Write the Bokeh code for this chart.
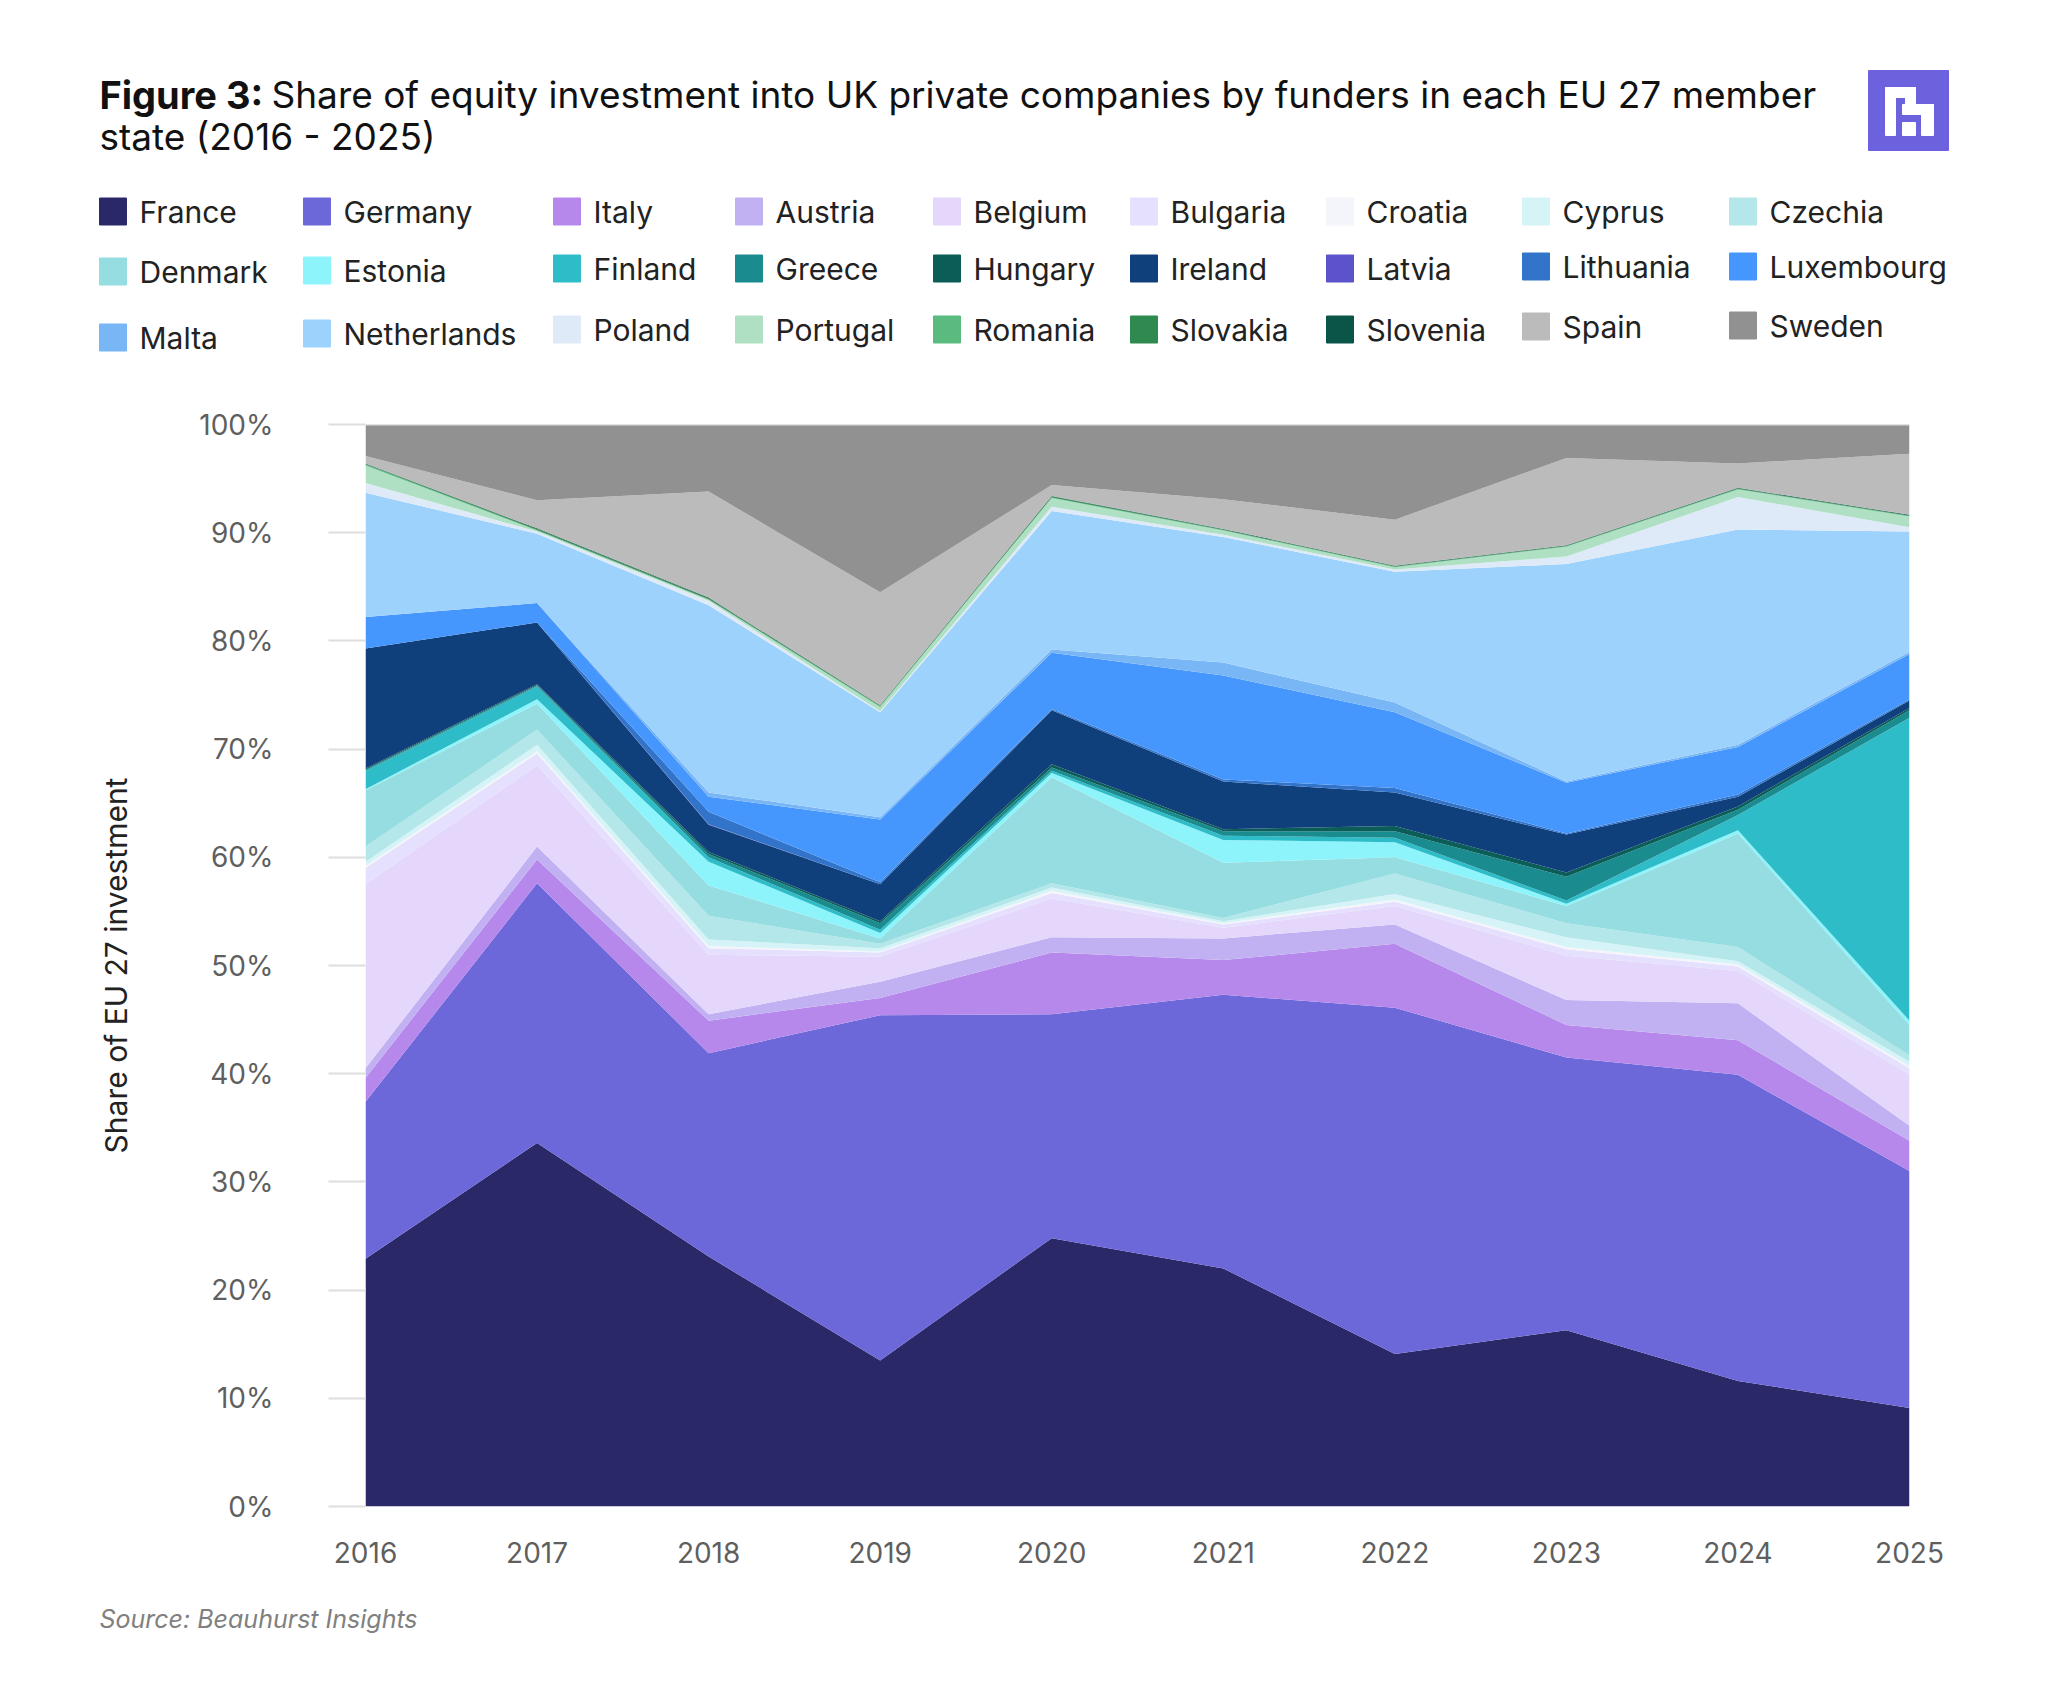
from bokeh.plotting import figure
from bokeh.layouts import column
from bokeh.models import (ColumnDataSource, Range1d, FixedTicker, PrintfTickFormatter, Span)
from bokeh.core.properties import value
from bokeh.embed import file_html
from bokeh.resources import INLINE

# ---------------- data ----------------
years = [2016, 2017, 2018, 2019, 2020, 2021, 2022, 2023, 2024, 2025]

countries = ["France", "Germany", "Italy", "Austria", "Belgium", "Bulgaria", "Croatia",
             "Cyprus", "Czechia", "Denmark", "Estonia", "Finland", "Greece", "Hungary",
             "Ireland", "Latvia", "Lithuania", "Luxembourg", "Malta", "Netherlands",
             "Poland", "Portugal", "Romania", "Slovakia", "Slovenia", "Spain", "Sweden"]

France      = [22.9, 33.6, 23.1, 13.5, 24.8, 22.0, 14.1, 16.3, 11.6, 9.1]
Germany     = [14.5, 24.0, 18.8, 31.9, 20.7, 25.3, 32.0, 25.2, 28.3, 21.9]
Italy       = [2.2, 2.2, 3.0, 1.6, 5.7, 3.2, 5.9, 3.0, 3.2, 2.8]
Austria     = [0.9, 1.2, 0.6, 1.5, 1.4, 2.0, 1.8, 2.3, 3.4, 1.4]
Belgium     = [17.0, 7.5, 5.5, 2.3, 3.6, 1.0, 1.7, 4.1, 3.0, 4.7]
Bulgaria    = [1.5, 1.1, 0.6, 0.4, 0.5, 0.3, 0.4, 0.6, 0.4, 0.6]
Croatia     = [0.2, 0.2, 0.2, 0.1, 0.2, 0.1, 0.2, 0.2, 0.2, 0.2]
Cyprus      = [0.4, 0.6, 0.6, 0.3, 0.3, 0.2, 0.5, 0.9, 0.3, 0.4]
Czechia     = [1.4, 1.4, 2.2, 0.4, 0.4, 0.3, 1.9, 1.3, 1.3, 0.6]
Denmark     = [5.2, 2.4, 2.8, 0.5, 9.8, 5.1, 1.5, 1.6, 10.5, 2.8]
Estonia     = [0.1, 0.4, 2.2, 0.5, 0.4, 2.1, 1.4, 0.2, 0.3, 0.4]
Finland     = [1.7, 1.2, 0.4, 0.3, 0.2, 0.4, 0.4, 0.3, 1.4, 28.0]
Greece      = [0.1, 0.1, 0.3, 0.6, 0.3, 0.4, 0.6, 2.2, 0.5, 0.7]
Hungary     = [0.1, 0.1, 0.2, 0.2, 0.3, 0.2, 0.5, 0.4, 0.3, 0.2]
Ireland     = [11.1, 5.7, 2.5, 3.4, 5.0, 4.4, 3.1, 3.5, 0.9, 0.7]
Latvia      = [0.0, 0.0, 0.05, 0.0, 0.0, 0.0, 0.0, 0.0, 0.0, 0.0]
Lithuania   = [0.0, 0.0, 1.15, 0.2, 0.1, 0.2, 0.4, 0.1, 0.2, 0.1]
Luxembourg  = [2.9, 1.8, 1.4, 5.8, 5.2, 9.6, 7.0, 4.7, 4.4, 4.2]
Malta       = [0.0, 0.0, 0.4, 0.2, 0.3, 1.2, 0.9, 0.1, 0.2, 0.2]
Netherlands = [11.5, 6.4, 17.3, 9.7, 12.8, 11.6, 12.1, 20.1, 19.9, 11.1]
Poland      = [0.9, 0.2, 0.4, 0.1, 0.4, 0.2, 0.2, 0.7, 3.0, 0.4]
Portugal    = [1.6, 0.1, 0.1, 0.4, 0.8, 0.4, 0.2, 0.9, 0.7, 1.0]
Romania     = [0.1, 0.05, 0.05, 0.05, 0.05, 0.05, 0.05, 0.05, 0.05, 0.05]
Slovakia    = [0.05, 0.1, 0.1, 0.05, 0.1, 0.05, 0.05, 0.05, 0.05, 0.05]
Slovenia    = [0.05, 0.05, 0.05, 0.05, 0.05, 0.05, 0.05, 0.05, 0.05, 0.05]
Spain       = [0.7, 2.6, 9.8, 10.45, 1.0, 2.75, 4.25, 8.05, 2.25, 5.65]
Sweden      = [2.9, 7.0, 6.2, 15.5, 5.6, 6.9, 8.8, 3.1, 3.6, 2.7]

series = [France, Germany, Italy, Austria, Belgium, Bulgaria, Croatia, Cyprus, Czechia,
          Denmark, Estonia, Finland, Greece, Hungary, Ireland, Latvia, Lithuania,
          Luxembourg, Malta, Netherlands, Poland, Portugal, Romania, Slovakia, Slovenia,
          Spain, Sweden]

y_ticks = [0, 10, 20, 30, 40, 50, 60, 70, 80, 90, 100]

colors = ["#2b2868", "#6c68da", "#b688eb", "#c2b1f2", "#e5d7fc", "#e4e0fd", "#f4f4fb",
          "#d6f4f7", "#b3e7ea", "#96dde1", "#8ef4fb", "#2ebcc8", "#1a8b8f", "#0b5d57",
          "#10407c", "#5c52c9", "#3274c9", "#4697fd", "#79b6f6", "#9dd2fd", "#dfeaf8",
          "#afe0c4", "#5bbb7e", "#2e8a4e", "#0b5548", "#bbbbbb", "#919191"]

title_bold = "Figure 3:"
title_line1 = "Share of equity investment into UK private companies by funders in each EU 27 member"
title_line2 = "state (2016 - 2025)"
y_title = "Share of EU 27 investment"
source_text = "Source: Beauhurst Insights"

# ---------------- layout (page pixel geometry) ----------------
W = 2032
HEADER_H = 400
MAIN_H = 1182
FOOTER_H = 104
FRAME_LEFT, FRAME_RIGHT, FRAME_TOP, FRAME_BOTTOM = 365, 1909, 424, 1506
FONT = "Inter"


def no_align(f):
    try:
        f.frame_align = False
    except Exception:
        pass


def plain_fig(top, h):
    f = figure(width=W, height=h, output_backend="svg", toolbar_location=None,
               x_range=Range1d(0, W), y_range=Range1d(top + h, top),
               min_border=0, min_border_left=0, min_border_right=0,
               min_border_top=0, min_border_bottom=0,
               x_axis_location=None, y_axis_location=None)
    f.grid.visible = False
    f.outline_line_color = None
    f.background_fill_color = "white"
    f.border_fill_color = "white"
    no_align(f)
    return f


# ---------------- header: title, logo, legend ----------------
header = plain_fig(0, HEADER_H)
header.text(x=[99], y=[94], text=[title_bold], text_font=value(FONT),
            text_font_style="bold", text_font_size="38px", text_color="#111111",
            text_baseline="middle")
header.text(x=[271, 99], y=[94, 136], text=[title_line1, title_line2],
            text_font=value(FONT), text_font_size="37px", text_color="#111111",
            text_baseline="middle")

# logo
header.quad(left=[1868], right=[1948], top=[70], bottom=[150], color="#6c62dd")
logo_l = [1885, 1885, 1905, 1902, 1921, 1902]
logo_r = [1895, 1915, 1915, 1933, 1933, 1915]
logo_t = [87, 87, 87, 104, 104, 122]
logo_b = [135, 97, 114, 114, 135, 135]
header.quad(left=logo_l, right=logo_r, top=logo_t, bottom=logo_b, color="white")

# legend grid
col_x = [99, 303, 553, 735, 933, 1130, 1326, 1522, 1729]
item_y = [211, 211, 211, 211, 211, 211, 211, 211, 211,
          271, 270, 268, 268, 268, 268, 268, 266, 266,
          337, 333, 329, 329, 329, 329, 329, 326, 325]
SQ = 27
sq_x = [col_x[i % 9] + SQ / 2 for i in range(len(countries))]
header.rect(x=sq_x, y=item_y, width=SQ, height=SQ, color=colors)
header.text(x=[col_x[i % 9] + 40 for i in range(len(countries))], y=item_y, text=countries,
            text_font=value(FONT), text_font_size="30px", text_color="#222222",
            text_baseline="middle")

# ---------------- main chart ----------------
data = {"year": years}
for name, vals in zip(countries, series):
    data[name] = vals
source = ColumnDataSource(data)

p = figure(width=W, height=MAIN_H, output_backend="svg", toolbar_location=None,
           x_range=Range1d(years[0], years[-1]), y_range=Range1d(0, 100),
           min_border_left=FRAME_LEFT, min_border_right=W - FRAME_RIGHT,
           min_border_top=FRAME_TOP - HEADER_H,
           min_border_bottom=HEADER_H + MAIN_H - FRAME_BOTTOM)
p.background_fill_color = "white"
p.border_fill_color = "white"
p.outline_line_color = None
no_align(p)

p.varea_stack(stackers=countries, x="year", color=colors, source=source)

p.xaxis.ticker = FixedTicker(ticks=years)
p.xaxis.formatter = PrintfTickFormatter(format="%d")
p.xaxis.axis_line_color = None
p.xaxis.major_tick_line_color = None
p.xaxis.minor_tick_line_color = None
p.xaxis.major_label_text_font = FONT
p.xaxis.major_label_text_font_size = "28px"
p.xaxis.major_label_text_color = "#5f5f5f"
p.xaxis.major_label_standoff = 29

p.yaxis.ticker = FixedTicker(ticks=y_ticks)
p.yaxis.formatter = PrintfTickFormatter(format="%d%%")
p.yaxis.axis_line_color = None
p.yaxis.major_tick_line_color = "#dedede"
p.yaxis.major_tick_line_width = 2
p.yaxis.major_tick_out = 37
p.yaxis.major_tick_in = 0
p.yaxis.minor_tick_line_color = None
p.yaxis.major_label_text_font = FONT
p.yaxis.major_label_text_font_size = "28px"
p.yaxis.major_label_text_color = "#5f5f5f"
p.yaxis.major_label_standoff = 55
p.yaxis.axis_label = y_title
p.yaxis.axis_label_text_font = FONT
p.yaxis.axis_label_text_font_style = "normal"
p.yaxis.axis_label_text_font_size = "30px"
p.yaxis.axis_label_text_color = "#222222"
p.yaxis.axis_label_standoff = 62

p.xgrid.visible = False
p.ygrid.grid_line_color = "#e6e6e6"
p.add_layout(Span(location=100, dimension="width", line_color="#dedede", line_width=2))

# ---------------- footer: source ----------------
footer = plain_fig(HEADER_H + MAIN_H, FOOTER_H)
footer.text(x=[99], y=[1618], text=[source_text], text_font=value(FONT),
            text_font_style="italic", text_font_size="25px", text_color="#808080",
            text_baseline="middle")

layout = column(header, p, footer, spacing=0)
open("out.html", "w").write(file_html(layout, INLINE))
